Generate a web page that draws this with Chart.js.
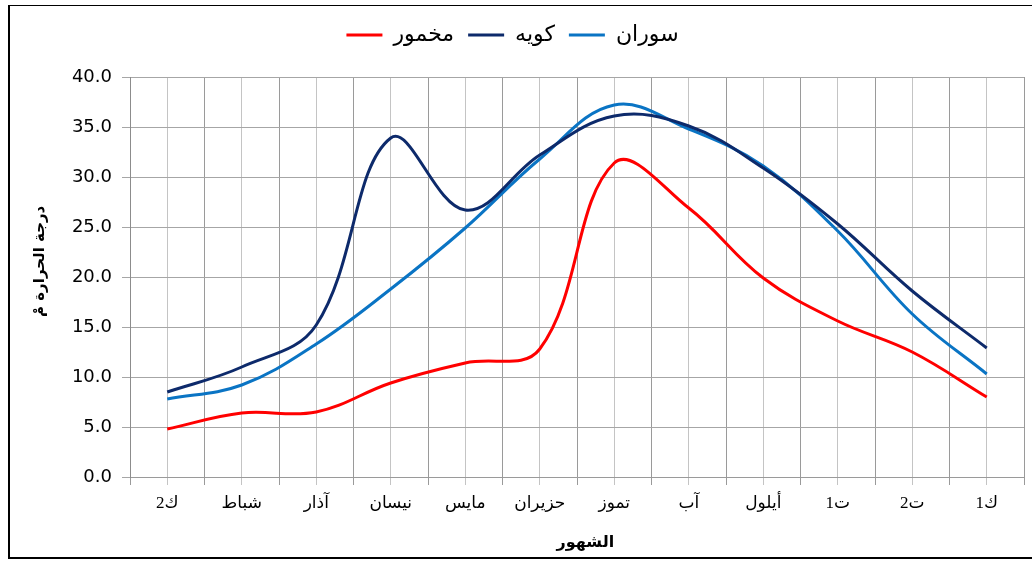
<!DOCTYPE html>
<html>
<head>
<meta charset="utf-8">
<script src="https://cdn.jsdelivr.net/npm/chart.js@4"></script>
<style>
  html, body { margin: 0; padding: 0; background: #fff; }
  #wrap { position: relative; width: 1032px; height: 561px; }
</style>
</head>
<body>
<div id="wrap"><canvas id="tempChart" width="1032" height="561"></canvas></div>
<script>
// === بيانات درجات الحرارة الشهرية ===
const months = ['ك2', 'شباط', 'آذار', 'نيسان', 'مايس', 'حزيران', 'تموز', 'آب', 'أيلول', 'ت1', 'ت2', 'ك1'];
const makhmour = [4.8, 6.4, 6.5, 9.4, 11.4, 12.8, 31.4, 26.9, 19.9, 15.6, 12.5, 8.0];
const koya = [8.5, 11.0, 15.2, 33.9, 26.7, 32.2, 36.1, 35.1, 30.9, 25.3, 18.6, 12.9];
const soran = [7.8, 9.2, 13.3, 18.8, 24.9, 31.8, 37.2, 34.8, 31.1, 24.6, 16.3, 10.3];
const yTicks = [0, 5, 10, 15, 20, 25, 30, 35, 40];

function toPoints(values) {
  return values.map((v, i) => ({ x: i, y: v }));
}

// إطار حول المخطط
const framePlugin = {
  id: 'frame',
  beforeLayout(chart) {
    // مسافة إضافية تحت وسيلة الإيضاح
    const lg = chart.legend;
    if (lg && !lg._extraGap) {
      const fit = lg.fit.bind(lg);
      lg.fit = function () { fit(); this.height += 21; };
      lg._extraGap = true;
    }
  },
  afterDraw(chart) {
    const ctx = chart.ctx;
    ctx.save();
    ctx.fillStyle = '#000';
    ctx.fillRect(8, 5, 1024, 1);   // top
    ctx.fillRect(8, 5, 2, 554);    // left
    ctx.fillRect(8, 557, 1024, 2); // bottom
    ctx.restore();
  }
};

const ctx = document.getElementById('tempChart').getContext('2d');
new Chart(ctx, {
  type: 'line',
  data: {
    datasets: [
      { label: 'مخمور', data: toPoints(makhmour), borderColor: '#ff0000', backgroundColor: '#ff0000' },
      { label: 'كويه', data: toPoints(koya), borderColor: '#0d2a6b', backgroundColor: '#0d2a6b' },
      { label: 'سوران', data: toPoints(soran), borderColor: '#0a74c4', backgroundColor: '#0a74c4' }
    ]
  },
  options: {
    responsive: false,
    animation: false,
    layout: { padding: { top: 10, right: 7, bottom: 0, left: 0 } },
    elements: {
      line: { borderWidth: 3, tension: 0.38, fill: false },
      point: { radius: 0, hoverRadius: 0 }
    },
    plugins: {
      legend: {
        position: 'top',
        labels: {
          usePointStyle: true,
          pointStyle: 'line',
          pointStyleWidth: 36,
          color: '#000',
          padding: 14,
          font: { family: 'DejaVu Sans', size: 22 },
          generateLabels(chart) {
            return Chart.defaults.plugins.legend.labels.generateLabels(chart)
              .map(item => Object.assign(item, { lineWidth: 3 }));
          }
        }
      },
      tooltip: { enabled: false }
    },
    scales: {
      x: {
        type: 'linear',
        min: -0.5,
        max: 11.5,
        afterFit(scale) { scale.height = 84; },
        grid: {
          color: c => Number.isInteger(c.tick.value) ? '#c4c4c4' : '#9a9a9a',
          tickLength: 8,
          drawTicks: true
        },
        border: { color: '#9a9a9a' },
        ticks: {
          stepSize: 0.5,
          autoSkip: false,
          maxRotation: 0,
          padding: 8,
          color: '#000',
          font: { family: '"Liberation Serif", "DejaVu Sans"', size: 17 },
          callback: v => Number.isInteger(v) ? months[v] : ''
        },
        title: {
          display: true,
          text: '   الشهور',
          color: '#000',
          font: { family: 'DejaVu Sans', size: 16, weight: 'bold' },
          padding: { top: 0, bottom: 9 }
        }
      },
      y: {
        min: 0,
        max: 40,
        afterFit(scale) { scale.width = 130; },
        afterBuildTicks(scale) { scale.ticks = yTicks.map(v => ({ value: v })); },
        grid: { color: '#a6a6a6', tickLength: 8 },
        border: { color: '#8c8c8c' },
        ticks: {
          padding: 10,
          color: '#000',
          font: { family: 'DejaVu Sans', size: 18 },
          callback: v => v.toFixed(1)
        },
        title: {
          display: true,
          text: '      درجة الحرارة مْ',
          color: '#000',
          font: { family: 'DejaVu Sans', size: 15, weight: 'bold' },
          padding: { top: 31, bottom: 0 }
        }
      }
    }
  },
  plugins: [framePlugin]
});
</script>
</body>
</html>
